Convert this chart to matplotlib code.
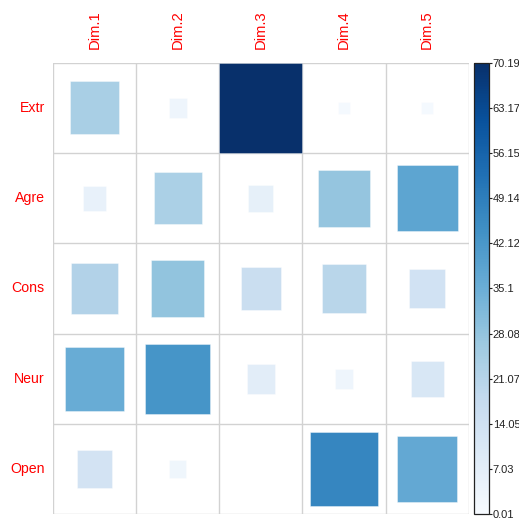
import numpy as np
import matplotlib.pyplot as plt
from matplotlib.patches import Rectangle
from matplotlib.colors import Normalize
from matplotlib.cm import ScalarMappable

plt.rcParams['font.family'] = ['Liberation Sans', 'DejaVu Sans']

variables = ["Extr", "Agre", "Cons", "Neur", "Open"]
dims = ["Dim.1", "Dim.2", "Dim.3", "Dim.4", "Dim.5"]

# contribution (%) of each variable to each dimension
extr = [24.0, 3.3, 70.19, 1.3, 1.3]
agre = [5.4, 23.4, 6.3, 27.7, 38.1]
cons = [22.1, 28.5, 16.0, 20.3, 13.7]
neur = [35.7, 42.8, 7.6, 3.3, 11.1]
opn = [12.9, 2.8, 0.01, 46.9, 36.9]

cbar_ticks = [0.01, 7.03, 14.05, 21.07, 28.08, 35.1, 42.12, 49.14, 56.15, 63.17, 70.19]

contrib = np.array([extr, agre, cons, neur, opn])
vmin, vmax = 0.01, 70.19

W, H = 519, 523
fig = plt.figure(figsize=(W / 100, H / 100), dpi=100)
ax = fig.add_axes([53 / W, (H - 514.3) / H, (468.7 - 53) / W, (514.3 - 62.7) / H])

cmap = plt.get_cmap("Blues")
norm = Normalize(vmin=vmin, vmax=vmax)
nr, nc = contrib.shape

for r in range(nr):
    for c in range(nc):
        v = contrib[r, c]
        side = np.sqrt((v - vmin) / (vmax - vmin))
        y = nr - 1 - r
        ax.add_patch(Rectangle((c + 0.5 - side / 2, y + 0.5 - side / 2), side, side,
                               facecolor=cmap(norm(v)), edgecolor=(1, 1, 1, 0.45),
                               linewidth=0.6, zorder=2))

# cell grid
for k in range(nc + 1):
    ax.axvline(k, color="#d2d2d2", lw=1.0, zorder=1)
for k in range(nr + 1):
    ax.axhline(k, color="#d2d2d2", lw=1.0, zorder=1)

ax.set_xlim(0, nc)
ax.set_ylim(0, nr)
ax.set_aspect("auto")
ax.axis("off")

for c, name in enumerate(dims):
    ax.text(c + 0.5, nr + 0.15, name, rotation=90, ha="center", va="bottom",
            color="red", fontsize=10.6)
for r, name in enumerate(variables):
    ax.text(-0.1, nr - 1 - r + 0.5, name, ha="right", va="center",
            color="red", fontsize=10.2)

# colour legend
cax = fig.add_axes([474.3 / W, (H - 514.3) / H, (488.5 - 474.3) / W, (514.3 - 62.7) / H])
sm = ScalarMappable(norm=norm, cmap=cmap)
cb = fig.colorbar(sm, cax=cax, ticks=cbar_ticks)
cb.ax.set_yticklabels([f"{t:g}" for t in cbar_ticks])
cb.outline.set_edgecolor("#222222")
cb.outline.set_linewidth(0.9)
cb.ax.tick_params(direction="out", length=2.5, width=0.8, pad=0.5, labelsize=8.0,
                  colors="#222222")

fig.savefig("out.png", dpi=100)
